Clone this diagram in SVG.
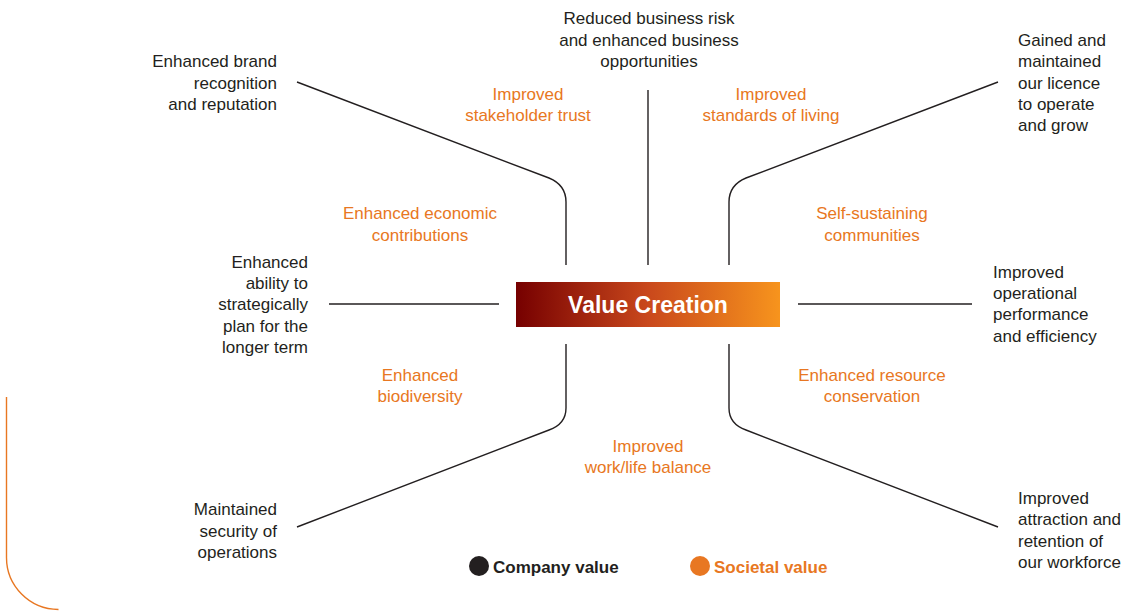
<svg xmlns="http://www.w3.org/2000/svg" width="1131" height="611" viewBox="0 0 1131 611">
  <defs>
    <linearGradient id="vcGrad" x1="0" y1="0" x2="1" y2="0">
      <stop offset="0" stop-color="#760000"/>
      <stop offset="0.5" stop-color="#c9481c"/>
      <stop offset="1" stop-color="#f7941d"/>
    </linearGradient>
    <style>
      .co { font-family: "Liberation Sans", Arial, sans-serif; font-size: 17px; fill: #231f20; }
      .so { font-family: "Liberation Sans", Arial, sans-serif; font-size: 17px; fill: #e87722; }
      .mid { text-anchor: middle; }
      .end { text-anchor: end; }
      .link { fill: none; stroke: #231f20; stroke-width: 1.4; }
      .legend { font-family: "Liberation Sans", Arial, sans-serif; font-size: 17px; font-weight: bold; }
    </style>
  </defs>
  <rect width="1131" height="611" fill="#ffffff"/>

  <!-- page edge ornament -->
  <path d="M6.5 397 V557 A52 52 0 0 0 58.5 609.5" fill="none" stroke="#e87722" stroke-width="1.4"/>

  <!-- connectors -->
  <g id="connectors">
    <path class="link" d="M297 82 L549 178 Q566 185 566 202 V265"/>
    <path class="link" d="M648 90 V265"/>
    <path class="link" d="M998 82 L746 178 Q729 185 729 202 V265"/>
    <path class="link" d="M329 304 H499"/>
    <path class="link" d="M798 304 H972"/>
    <path class="link" d="M566 344 V408 Q566 424 549 430 L297 527"/>
    <path class="link" d="M729 344 V408 Q729 424 746 430 L998 527"/>
  </g>

  <!-- centre -->
  <g id="value-creation">
    <rect x="516" y="282" width="264" height="45" fill="url(#vcGrad)"/>
    <text x="648" y="313" text-anchor="middle" font-family="Liberation Sans, Arial, sans-serif" font-size="23" font-weight="bold" fill="#ffffff">Value Creation</text>
  </g>

  <!-- company value outcomes -->
  <g id="business-risk">
    <text class="co mid" x="649" y="24">Reduced business risk</text>
    <text class="co mid" x="649" y="46">and enhanced business</text>
    <text class="co mid" x="649" y="67">opportunities</text>
  </g>
  <g id="brand">
    <text class="co end" x="277" y="67">Enhanced brand</text>
    <text class="co end" x="277" y="89">recognition</text>
    <text class="co end" x="277" y="110">and reputation</text>
  </g>
  <g id="licence">
    <text class="co" x="1018" y="46">Gained and</text>
    <text class="co" x="1018" y="67">maintained</text>
    <text class="co" x="1018" y="89">our licence</text>
    <text class="co" x="1018" y="110">to operate</text>
    <text class="co" x="1018" y="131">and grow</text>
  </g>
  <g id="planning">
    <text class="co end" x="308" y="268">Enhanced</text>
    <text class="co end" x="308" y="289">ability to</text>
    <text class="co end" x="308" y="310">strategically</text>
    <text class="co end" x="308" y="332">plan for the</text>
    <text class="co end" x="308" y="353">longer term</text>
  </g>
  <g id="performance">
    <text class="co" x="993" y="278">Improved</text>
    <text class="co" x="993" y="299">operational</text>
    <text class="co" x="993" y="320">performance</text>
    <text class="co" x="993" y="342">and efficiency</text>
  </g>
  <g id="security">
    <text class="co end" x="277" y="515">Maintained</text>
    <text class="co end" x="277" y="537">security of</text>
    <text class="co end" x="277" y="558">operations</text>
  </g>
  <g id="workforce">
    <text class="co" x="1018" y="504">Improved</text>
    <text class="co" x="1018" y="525">attraction and</text>
    <text class="co" x="1018" y="547">retention of</text>
    <text class="co" x="1018" y="568">our workforce</text>
  </g>

  <!-- societal value outcomes -->
  <g id="trust">
    <text class="so mid" x="528" y="100">Improved</text>
    <text class="so mid" x="528" y="121">stakeholder trust</text>
  </g>
  <g id="living">
    <text class="so mid" x="771" y="100">Improved</text>
    <text class="so mid" x="771" y="121">standards of living</text>
  </g>
  <g id="economic">
    <text class="so mid" x="420" y="219">Enhanced economic</text>
    <text class="so mid" x="420" y="241">contributions</text>
  </g>
  <g id="communities">
    <text class="so mid" x="872" y="219">Self-sustaining</text>
    <text class="so mid" x="872" y="241">communities</text>
  </g>
  <g id="biodiversity">
    <text class="so mid" x="420" y="381">Enhanced</text>
    <text class="so mid" x="420" y="402">biodiversity</text>
  </g>
  <g id="resources">
    <text class="so mid" x="872" y="381">Enhanced resource</text>
    <text class="so mid" x="872" y="402">conservation</text>
  </g>
  <g id="worklife">
    <text class="so mid" x="648" y="452">Improved</text>
    <text class="so mid" x="648" y="473">work/life balance</text>
  </g>

  <!-- legend -->
  <g id="legend">
    <circle cx="479" cy="566" r="10" fill="#231f20"/>
    <text class="legend" x="493" y="573" fill="#231f20">Company value</text>
    <circle cx="700" cy="566" r="10" fill="#e87722"/>
    <text class="legend" x="714" y="573" fill="#e87722">Societal value</text>
  </g>
</svg>
